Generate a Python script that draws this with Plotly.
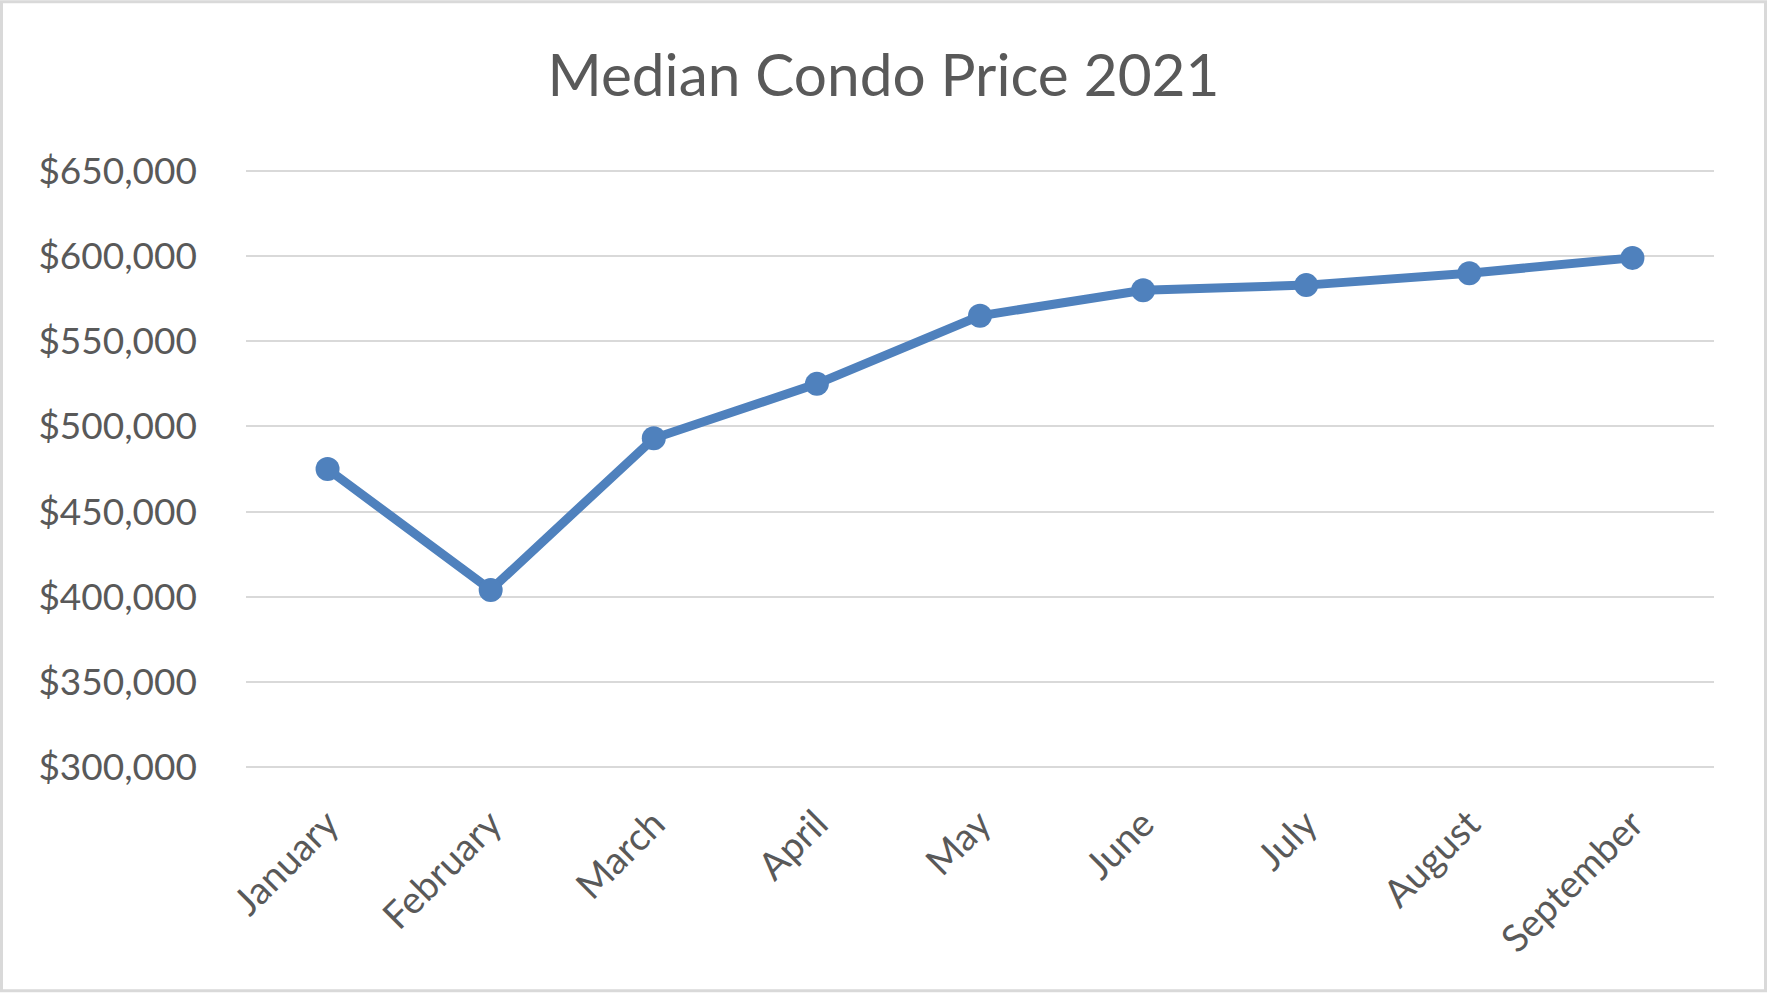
import plotly.graph_objects as go

months = ["January", "February", "March", "April", "May", "June", "July", "August", "September"]
prices = [475000, 404000, 493000, 525000, 565000, 580000, 583000, 590000, 599000]
y_ticks = [300000, 350000, 400000, 450000, 500000, 550000, 600000, 650000]

W, H = 1767, 993
PAD = 1200  # small range padding so the edge gridlines are drawn
ML, MR, MT, MB = 246, 53, 169, 223.5
pw = W - ML - MR
ph = H - MT - MB

TEXT = "#595959"
FONT = "Lato, 'Open Sans', sans-serif"
BLUE = "#4F81BD"

fig = go.Figure()
fig.add_trace(go.Scatter(
    x=months, y=prices, mode="lines+markers",
    line=dict(color=BLUE, width=9),
    marker=dict(color=BLUE, size=24),
    cliponaxis=False, showlegend=False,
))

fig.update_layout(
    width=W, height=H,
    margin=dict(l=ML, r=MR, t=MT, b=MB, autoexpand=False),
    paper_bgcolor="white", plot_bgcolor="white",
    title=dict(text="Median Condo Price 2021", x=0.5, xref="container",
               xanchor="center", y=1 - 76 / H, yref="container", yanchor="middle",
               font=dict(family=FONT, size=58.5, color=TEXT)),
    xaxis=dict(range=[-0.5, 8.5], showgrid=False, zeroline=False, showline=False,
               tickangle=-45, ticks="", ticklabelstandoff=24,
               tickfont=dict(family=FONT, size=38, color=TEXT)),
    yaxis=dict(range=[y_ticks[0] - PAD, y_ticks[-1] + PAD], tickvals=y_ticks,
               tickformat="$,.0f",
               showgrid=True, gridcolor="#D9D9D9", gridwidth=2,
               zeroline=False, showline=False, ticks="", ticklabelstandoff=48,
               tickfont=dict(family=FONT, size=37, color=TEXT)),
)

# outer chart border
fig.add_shape(type="rect", xref="paper", yref="paper",
              x0=(-ML + 1.5) / pw, x1=1 + (MR - 1.5) / pw,
              y0=(-MB + 1.5) / ph, y1=1 + (MT - 1.5) / ph,
              line=dict(color="#D9D9D9", width=3), fillcolor="rgba(0,0,0,0)", layer="below")

fig.write_html("out.html")
